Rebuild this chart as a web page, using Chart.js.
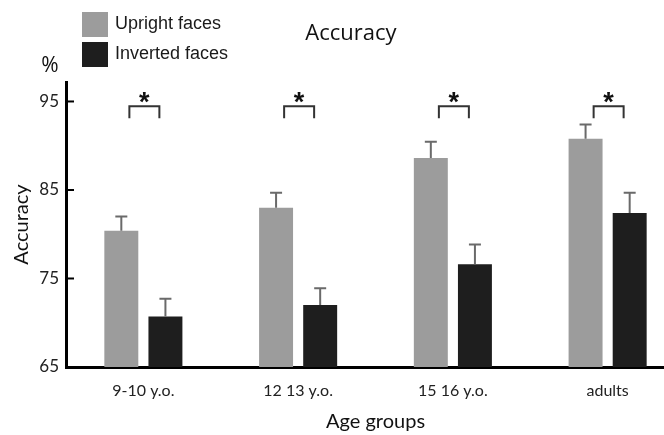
<!DOCTYPE html>
<html>
<head>
<meta charset="utf-8">
<script src="https://cdn.jsdelivr.net/npm/chart.js@4.4.0/dist/chart.umd.min.js"></script>
<style>
  html, body { margin: 0; padding: 0; background: #fff; overflow: hidden; }
  #wrap { width: 664px; height: 435px; overflow: hidden; }
</style>
</head>
<body>
<div id="wrap"><canvas id="accChart" width="690" height="435"></canvas></div>
<script>
// data
const ageGroups = ["9-10 y.o.", "12 13 y.o.", "15 16 y.o.", "adults"];
const upright = [80.4, 83.0, 88.6, 90.8];
const uprightErr = [1.6, 1.7, 1.85, 1.6];
const inverted = [70.7, 72.0, 76.6, 82.4];
const invertedErr = [2.0, 1.9, 2.25, 2.3];
const significant = [true, true, true, true];
const yTicks = [65, 75, 85, 95];

const errors = [uprightErr, invertedErr];

// error bars, brackets, inward ticks, legend and titles
const extras = {
    id: "extras",
    afterDatasetsDraw(chart) {
        const ctx = chart.ctx;
        const y = chart.scales.y;
        ctx.save();

        // error bars (upper half only)
        ctx.strokeStyle = "#6a6a6a";
        ctx.lineWidth = 2;
        chart.data.datasets.forEach((ds, i) => {
            chart.getDatasetMeta(i).data.forEach((bar, j) => {
                const top = y.getPixelForValue(ds.data[j] + errors[i][j]);
                ctx.beginPath();
                ctx.moveTo(bar.x, bar.y);
                ctx.lineTo(bar.x, top);
                ctx.moveTo(bar.x - 6, top);
                ctx.lineTo(bar.x + 6, top);
                ctx.stroke();
            });
        });

        // significance brackets
        const m0 = chart.getDatasetMeta(0).data;
        const m1 = chart.getDatasetMeta(1).data;
        const yTop = y.getPixelForValue(94.45);
        const yLeg = y.getPixelForValue(93.1);
        ctx.strokeStyle = "#333";
        ctx.lineWidth = 2;
        significant.forEach((s, j) => {
            if (!s) return;
            const mid = (m0[j].x + m1[j].x) / 2;
            ctx.beginPath();
            ctx.moveTo(mid - 14, yLeg);
            ctx.lineTo(mid - 14, yTop);
            ctx.lineTo(mid + 16, yTop);
            ctx.lineTo(mid + 16, yLeg);
            ctx.stroke();
            ctx.fillStyle = "#111";
            ctx.font = "bold 27px 'Liberation Sans'";
            ctx.textAlign = "center";
            ctx.textBaseline = "alphabetic";
            ctx.fillText("*", mid + 1, yTop + 5);
        });

        // inward tick marks on the y axis
        const left = chart.chartArea.left;
        ctx.strokeStyle = "#000";
        ctx.lineWidth = 2;
        yTicks.forEach(v => {
            if (v === y.min) return;
            const py = y.getPixelForValue(v);
            ctx.beginPath();
            ctx.moveTo(left, py);
            ctx.lineTo(left + 8, py);
            ctx.stroke();
        });

        // legend
        const labels = chart.data.datasets.map(d => d.label);
        const colors = chart.data.datasets.map(d => d.backgroundColor);
        ctx.font = "18px 'Liberation Sans'";
        ctx.textAlign = "left";
        ctx.textBaseline = "middle";
        labels.forEach((lab, i) => {
            const by = 12 + i * 30;
            ctx.fillStyle = colors[i];
            ctx.fillRect(82, by, 26, 25);
            ctx.fillStyle = "#1a1a1a";
            ctx.fillText(lab, 115, by + 12);
        });

        // title and unit
        ctx.fillStyle = "#111";
        ctx.font = "22px 'Open Sans'";
        ctx.textAlign = "center";
        ctx.fillText("Accuracy", 351, 34);
        ctx.font = "21px 'Open Sans'";
        ctx.fillText("%", 50, 66);

        ctx.restore();
    }
};

new Chart(document.getElementById("accChart"), {
    type: "bar",
    data: {
        labels: ageGroups,
        datasets: [
            {
                label: "Upright faces",
                data: upright,
                backgroundColor: "#9c9c9c",
                categoryPercentage: 0.57,
                barPercentage: 0.77
            },
            {
                label: "Inverted faces",
                data: inverted,
                backgroundColor: "#1e1e1e",
                categoryPercentage: 0.57,
                barPercentage: 0.77
            }
        ]
    },
    options: {
        responsive: false,
        animation: false,
        layout: { padding: { top: 82, right: 5, left: 0, bottom: 0 } },
        plugins: {
            legend: { display: false },
            title: { display: false },
            tooltip: { enabled: false }
        },
        scales: {
            x: {
                grid: { display: false },
                border: { display: true, color: "#000", width: 3 },
                ticks: {
                    color: "#222",
                    font: { family: "Lato", size: 16 },
                    padding: 6,
                    maxRotation: 0
                },
                title: {
                    display: true,
                    text: "Age groups",
                    color: "#111",
                    font: { family: "Lato", size: 20 },
                    padding: { top: 0, bottom: 1 }
                },
                afterFit(scale) { scale.height = 68; }
            },
            y: {
                min: 65,
                max: 97.2,
                afterBuildTicks(scale) {
                    scale.ticks = yTicks.map(v => ({ value: v }));
                },
                grid: { display: false, drawTicks: false },
                border: { display: true, color: "#000", width: 3 },
                ticks: {
                    color: "#222",
                    font: { family: "Lato", size: 17 },
                    padding: 7
                },
                title: {
                    display: true,
                    text: "Accuracy",
                    color: "#111",
                    font: { family: "Lato", size: 20 },
                    padding: { top: 10, bottom: 0 }
                },
                afterFit(scale) { scale.width = 66; }
            }
        }
    },
    plugins: [extras]
});
</script>
</body>
</html>
